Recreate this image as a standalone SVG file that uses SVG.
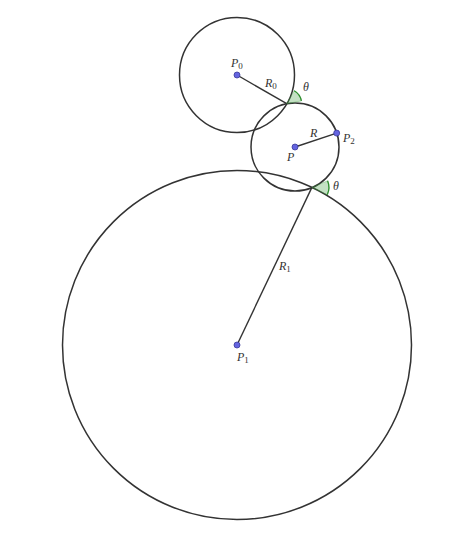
<svg xmlns="http://www.w3.org/2000/svg" width="474" height="534" viewBox="0 0 474 534">
<style>
.c{fill:none;stroke:#333;stroke-width:1.5}
.seg{stroke:#333;stroke-width:1.4}
.pt{fill:#6464e0;stroke:#3a3a9a;stroke-width:0.8}
.ang{fill:#3c9c3c;fill-opacity:0.3;stroke:#3c9c3c;stroke-opacity:0.4;stroke-width:0.8}
.arc{fill:none;stroke:#2f8f2f;stroke-width:1.3}
.lb{font-family:"Liberation Serif",serif;font-style:italic;font-size:12px;fill:#333}
.sub{font-size:9px;font-style:normal}
</style>
<rect width="474" height="534" fill="#fff"/>
<g id="circles">
<circle id="circleP0" class="c" cx="237" cy="75" r="57.5"/>
<circle id="circleP" class="c" cx="295" cy="147" r="44"/>
<circle id="circleP1" class="c" cx="237" cy="345" r="174.5"/>
</g>
<g id="connectors">
<line class="seg" x1="237" y1="75" x2="286.7" y2="103.7"/>
<line class="seg" x1="295" y1="147" x2="336.7" y2="133.1"/>
<line class="seg" x1="237" y1="345" x2="311.9" y2="187.4"/>
</g>
<g id="angles">
<path class="ang" d="M286.7 103.7 L294.2 90.7 A15 15 0 0 1 301.43 100.88 Z"/>
<path class="arc" d="M294.2 90.7 A15 15 0 0 1 301.43 100.88"/>
<path class="ang" d="M311.9 187.4 L327.58 180.84 A17 17 0 0 1 327.26 194.69 Z"/>
<path class="arc" d="M327.58 180.84 A17 17 0 0 1 327.26 194.69"/>
</g>
<g id="points">
<circle id="P0" class="pt" cx="237" cy="75" r="3"/>
<circle id="P" class="pt" cx="295" cy="147" r="3"/>
<circle id="P2" class="pt" cx="336.7" cy="133.1" r="3"/>
<circle id="P1" class="pt" cx="237" cy="345" r="3"/>
</g>
<g id="labels">
<text class="lb" x="231" y="67">P<tspan class="sub" dy="2">0</tspan></text>
<text class="lb" x="265" y="87">R<tspan class="sub" dy="2">0</tspan></text>
<text class="lb" x="303" y="91">θ</text>
<text class="lb" x="310" y="137">R</text>
<text class="lb" x="343" y="142">P<tspan class="sub" dy="2">2</tspan></text>
<text class="lb" x="287" y="161">P</text>
<text class="lb" x="333" y="190">θ</text>
<text class="lb" x="279" y="270">R<tspan class="sub" dy="2">1</tspan></text>
<text class="lb" x="237" y="361">P<tspan class="sub" dy="2">1</tspan></text>
</g>
</svg>
